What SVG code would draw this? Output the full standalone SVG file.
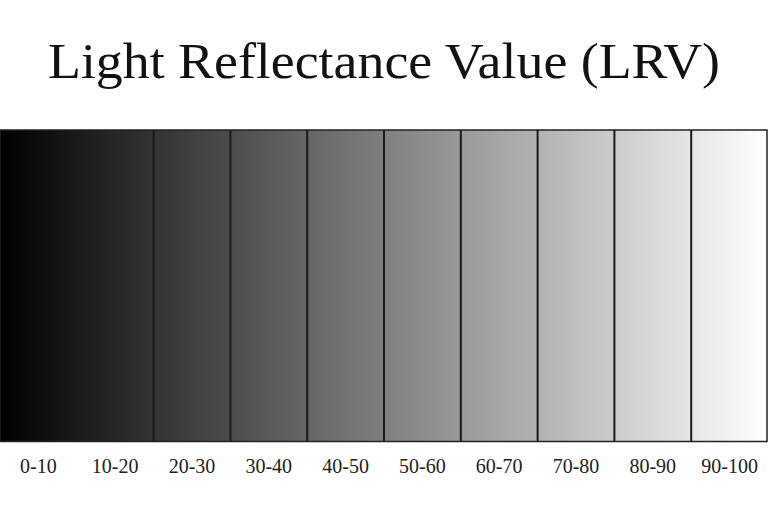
<svg xmlns="http://www.w3.org/2000/svg" width="768" height="512" viewBox="0 0 768 512">
  <defs>
    <linearGradient id="lrv" x1="0" y1="0" x2="768" y2="0" gradientUnits="userSpaceOnUse">
      <stop offset="0" stop-color="#000000"/>
      <stop offset="1" stop-color="#ffffff"/>
    </linearGradient>
  </defs>
  <style>
    .title { font-family: "Liberation Serif", "DejaVu Serif", serif; font-size: 50px; fill: #111; }
    .lbl { font-family: "Liberation Serif", "DejaVu Serif", serif; font-size: 20px; fill: #222; text-anchor: middle; }
    .div { stroke: #1a1a1a; stroke-width: 2; }
  </style>
  <rect width="768" height="512" fill="#ffffff"/>
  <text id="title" class="title" x="384" y="78" text-anchor="middle" textLength="672" lengthAdjust="spacingAndGlyphs">Light Reflectance Value (LRV)</text>
  <g id="bar">
    <rect x="0" y="130" width="767" height="311.5" fill="url(#lrv)" stroke="#222" stroke-width="1.5"/>
  </g>
  <g id="dividers">
    <line class="div" x1="76.8" y1="130" x2="76.8" y2="441.5"/>
    <line class="div" x1="153.6" y1="130" x2="153.6" y2="441.5"/>
    <line class="div" x1="230.4" y1="130" x2="230.4" y2="441.5"/>
    <line class="div" x1="307.2" y1="130" x2="307.2" y2="441.5"/>
    <line class="div" x1="384" y1="130" x2="384" y2="441.5"/>
    <line class="div" x1="460.8" y1="130" x2="460.8" y2="441.5"/>
    <line class="div" x1="537.6" y1="130" x2="537.6" y2="441.5"/>
    <line class="div" x1="614.4" y1="130" x2="614.4" y2="441.5"/>
    <line class="div" x1="691.2" y1="130" x2="691.2" y2="441.5"/>
  </g>
  <g id="labels">
    <text class="lbl" x="38.4" y="473">0-10</text>
    <text class="lbl" x="115.2" y="473">10-20</text>
    <text class="lbl" x="192" y="473">20-30</text>
    <text class="lbl" x="268.8" y="473">30-40</text>
    <text class="lbl" x="345.6" y="473">40-50</text>
    <text class="lbl" x="422.4" y="473">50-60</text>
    <text class="lbl" x="499.2" y="473">60-70</text>
    <text class="lbl" x="576" y="473">70-80</text>
    <text class="lbl" x="652.8" y="473">80-90</text>
    <text class="lbl" x="729.6" y="473">90-100</text>
  </g>
</svg>
